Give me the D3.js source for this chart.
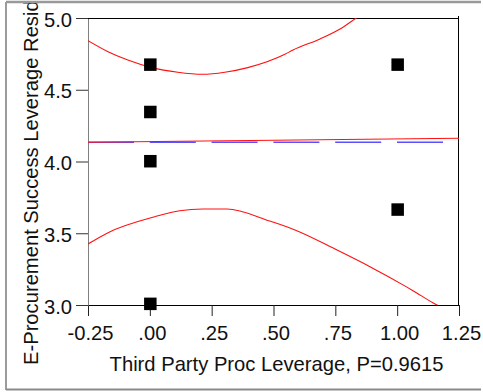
<!DOCTYPE html>
<html>
<head>
<meta charset="utf-8">
<script src="https://cdn.jsdelivr.net/npm/d3@7"></script>
<style>
  html, body { margin: 0; padding: 0; background: #fff; }
  svg { display: block; }
  text { font-family: "Liberation Sans", Arial, sans-serif; fill: #111; }
</style>
</head>
<body>
<svg id="chart" width="483" height="392"></svg>
<script>
// Leverage plot: residuals vs. Third Party Proc leverage
const xTickValues = [-0.25, 0, 0.25, 0.5, 0.75, 1.0, 1.25];
const xTickLabels = ["-0.25", ".00", ".25", ".50", ".75", "1.00", "1.25"];
const yTickValues = [3.0, 3.5, 4.0, 4.5, 5.0];
const yTickLabels = ["3.0", "3.5", "4.0", "4.5", "5.0"];

// leverage residual points
const pointX = [0, 0, 0, 0, 1, 1];
const pointY = [4.675, 4.345, 4.002, 3.008, 4.675, 3.665];

// fitted line and mean reference line
const fitX = [-0.25, 1.25];
const fitY = [4.134, 4.162];
const meanY = 4.134;

// confidence curves
const upperX = [-0.25, -0.169, -0.089, 0.008, 0.113, 0.214, 0.303, 0.396, 0.546, 0.579, 0.688, 0.769, 0.833, 0.87];
const upperY = [4.842, 4.765, 4.707, 4.654, 4.622, 4.608, 4.622, 4.654, 4.747, 4.777, 4.854, 4.923, 4.998, 5.04];
const lowerX = [-0.25, -0.169, 0.02, 0.121, 0.214, 0.311, 0.485, 0.587, 0.757, 0.890, 1.036, 1.064, 1.161, 1.2];
const lowerY = [3.425, 3.504, 3.615, 3.657, 3.669, 3.669, 3.585, 3.523, 3.383, 3.267, 3.128, 3.100, 3.0, 2.97];

const xTitle = "Third Party Proc Leverage, P=0.9615";
const yTitle = "E-Procurement Success Leverage Residuals";

const fontSize = 20.2;
const svg = d3.select("#chart");
const plotL = 88, plotR = 459, plotT = 18, plotB = 305;

const x = d3.scaleLinear().domain([-0.25, 1.25]).range([plotL, plotR]);
const y = d3.scaleLinear().domain([3, 5]).range([plotB, plotT]);

// outer panel border
svg.append("line").attr("x1", 6).attr("x2", 6).attr("y1", 2).attr("y2", 390)
  .attr("stroke", "#7a7a7a").attr("stroke-width", 1.5);
svg.append("line").attr("x1", 6).attr("x2", 481).attr("y1", 389.5).attr("y2", 389.5)
  .attr("stroke", "#8a8a8a").attr("stroke-width", 2);

svg.append("clipPath").attr("id", "plotClip")
  .append("rect").attr("x", plotL).attr("y", plotT).attr("width", plotR - plotL).attr("height", plotB - plotT);

// axes
const xAxis = svg.append("g").attr("transform", `translate(0,${plotB})`)
  .call(d3.axisBottom(x).tickValues(xTickValues).tickFormat((d, i) => xTickLabels[i]).tickSize(11).tickSizeOuter(0));
xAxis.select(".domain").attr("stroke", "#000");
xAxis.selectAll(".tick line").attr("stroke", "#222");
xAxis.selectAll(".tick text").attr("font-size", fontSize).attr("dy", 0).attr("y", 34.5)
  .attr("dx", 2).attr("fill", "#111").attr("font-family", "Liberation Sans, Arial, sans-serif");

const yAxis = svg.append("g").attr("transform", `translate(${plotL},0)`)
  .call(d3.axisLeft(y).tickValues(yTickValues).tickFormat((d, i) => yTickLabels[i]).tickSize(12).tickSizeOuter(0));
yAxis.select(".domain").attr("stroke", "#808080");
yAxis.selectAll(".tick line").attr("stroke", "#333");
yAxis.selectAll(".tick text").attr("font-size", fontSize).attr("x", -16).attr("dy", 0).attr("y", 8)
  .attr("fill", "#111").attr("font-family", "Liberation Sans, Arial, sans-serif");

// top and right frame lines
svg.append("line").attr("x1", plotL).attr("x2", plotR).attr("y1", plotT + 0.5).attr("y2", plotT + 0.5)
  .attr("stroke", "#000");
svg.append("line").attr("x1", plotR - 0.5).attr("x2", plotR - 0.5).attr("y1", 16).attr("y2", plotB)
  .attr("stroke", "#000");

const plot = svg.append("g").attr("clip-path", "url(#plotClip)");
const line = d3.line().x(d => x(d[0])).y(d => y(d[1]));

// mean reference (dashed blue)
plot.append("path")
  .attr("d", line([[-0.25, meanY], [1.25, meanY]]))
  .attr("fill", "none").attr("stroke", "#5a50ff").attr("stroke-width", 1.3)
  .attr("stroke-dasharray", "46 15.8");

// fit line
plot.append("path")
  .attr("d", line(fitX.map((v, i) => [v, fitY[i]])))
  .attr("fill", "none").attr("stroke", "#ff1010").attr("stroke-width", 1.2);

// confidence curves
const curve = d3.line().x(d => x(d[0])).y(d => y(d[1])).curve(d3.curveMonotoneX);
plot.append("path")
  .attr("d", curve(upperX.map((v, i) => [v, upperY[i]])))
  .attr("fill", "none").attr("stroke", "#ff1010").attr("stroke-width", 1.1);
plot.append("path")
  .attr("d", curve(lowerX.map((v, i) => [v, lowerY[i]])))
  .attr("fill", "none").attr("stroke", "#ff1010").attr("stroke-width", 1.1);

// points
const sz = 12.5;
svg.append("g").selectAll("rect")
  .data(pointX.map((v, i) => [v, pointY[i]]))
  .join("rect")
  .attr("x", d => x(d[0]) - sz / 2 + 0.5)
  .attr("y", d => y(d[1]) - sz / 2)
  .attr("width", sz).attr("height", sz)
  .attr("fill", "#000");

// axis titles
svg.append("text")
  .attr("x", 276.5).attr("y", 371)
  .attr("text-anchor", "middle").attr("font-size", fontSize)
  .text(xTitle);

svg.append("text")
  .attr("transform", "translate(38,365) rotate(-90)")
  .attr("text-anchor", "start").attr("font-size", fontSize)
  .text(yTitle);

// top border drawn last so it sits above the overflowing axis title
svg.append("line").attr("x1", 6).attr("x2", 481).attr("y1", 2).attr("y2", 2)
  .attr("stroke", "#999").attr("stroke-width", 2.5);
</script>
</body>
</html>
